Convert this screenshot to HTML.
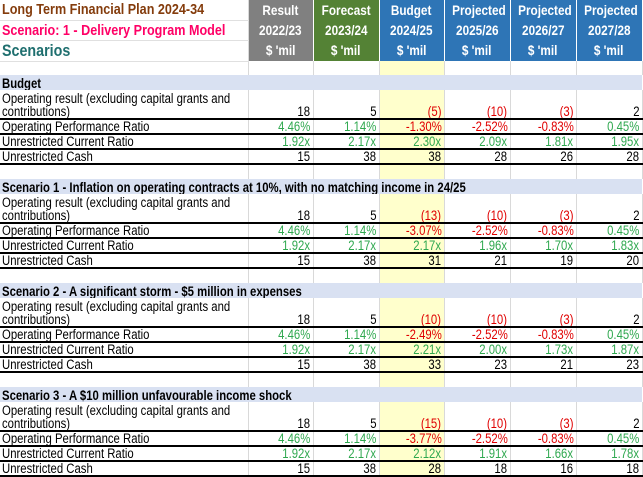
<!DOCTYPE html>
<html><head><meta charset="utf-8"><style>
body{margin:0;width:643px;height:476px;overflow:hidden;background:#fff;font-family:"Liberation Sans",Arial,sans-serif;}
table{border-collapse:collapse;table-layout:fixed;position:absolute;left:0;top:0;width:642px;}
td{padding:0 2px;font-size:13.5px;color:#000;white-space:nowrap;overflow:hidden;border-right:1px solid #d9d9d9;vertical-align:bottom;line-height:13px;box-sizing:border-box;}
td.num{text-align:right;}
.sx{display:inline-block;transform:scaleX(.84);transform-origin:left bottom;}
td.num .sx{transform-origin:right bottom;}
.hd td{color:#fff;font-weight:bold;text-align:center;vertical-align:middle;border-right:1px solid #fff;font-size:14px;}
.hd td.lab{background:#fff;color:#000;text-align:left;font-size:15px;border-bottom:1px solid #e0e0e0;border-right:1px solid #d9d9d9;}
.g{background:#808080!important}.f{background:#548235!important}.b{background:#2e75b6!important}
.y{background:#ffffcc;}
.band td{background:#d9e1f2;font-weight:bold;border-right:none;}
.ln td{border-bottom:2px solid #000;}
.pos{color:#2fa84f}.neg{color:#e00000}
</style></head><body>
<table id="t">
<colgroup><col style="width:248px"><col style="width:65px"><col style="width:66px"><col style="width:65px"><col style="width:66px"><col style="width:66px"><col style="width:66px"></colgroup>
<tbody id="tb"></tbody></table>
<script>
const years=["2022/23","2023/24","2024/25","2025/26","2026/27","2027/28"];
const colHeads=["Result","Forecast","Budget","Projected","Projected","Projected"];
const sections=["Budget","Scenario 1 - Inflation on operating contracts at 10%, with no matching income in 24/25","Scenario 2 - A significant storm - $5 million in expenses","Scenario 3 - A $10 million unfavourable income shock"];
const opResult=[[18,5,-5,-10,-3,2],[18,5,-13,-10,-3,2],[18,5,-10,-10,-3,2],[18,5,-15,-10,-3,2]];
const opRatio=[[4.46,1.14,-1.30,-2.52,-0.83,0.45],[4.46,1.14,-3.07,-2.52,-0.83,0.45],[4.46,1.14,-2.49,-2.52,-0.83,0.45],[4.46,1.14,-3.77,-2.52,-0.83,0.45]];
const curRatio=[[1.92,2.17,2.30,2.09,1.81,1.95],[1.92,2.17,2.17,1.96,1.70,1.83],[1.92,2.17,2.21,2.00,1.73,1.87],[1.92,2.17,2.12,1.91,1.66,1.78]];
const cash=[[15,38,38,28,26,28],[15,38,31,21,19,20],[15,38,33,23,21,23],[15,38,28,18,16,18]];
const tb=document.getElementById('tb');
const hcls=['g','f','b','b','b','b'];
function row(h,cls){const tr=document.createElement('tr');tr.style.height=h+'px';if(cls)tr.className=cls;tb.appendChild(tr);return tr;}
function cell(tr,html,cls,name){const td=document.createElement('td');td.innerHTML=html;if(cls)td.className=cls;


tr.appendChild(td);return td;}
const labs=[['Long Term Financial Plan 2024-34','color:#843c0c;font-size:15px'],['Scenario: 1 - Delivery Program Model','color:#ff0066;font-size:15px'],['Scenarios','color:#1f6f6f;font-size:17px']];
for(let r=0;r<3;r++){const tr=row(r==2?21:20,'hd');
cell(tr,'<span class="sx">'+'<span style="'+labs[r][1]+'">'+labs[r][0]+'</span></span>','lab','header-title-'+r);
for(let c=0;c<6;c++){const t=r==0?colHeads[c]:r==1?years[c]:"$ 'mil";cell(tr,'<span class="sx" style="transform-origin:center">'+t+'</span>',hcls[c],'column-header-'+c+'-'+r);}}
function blank(h){const tr=row(h);cell(tr,'','','blank-cell');for(let c=0;c<6;c++)cell(tr,'',c==2?'y':'','blank-cell');}
blank(14);
function fmtOp(v){return v<0?'<span class="neg">('+(-v)+')</span>':''+v;}
function fmtPct(v){return '<span class="'+(v<0?'neg':'pos')+'">'+v.toFixed(2)+'%</span>';}
function fmtX(v){return '<span class="pos">'+v.toFixed(2)+'x</span>';}
sections.forEach((s,i)=>{
 const b=row(15,'band');const td=cell(b,'<span class="sx">'+s+'</span>','','section-header');td.colSpan=7;
 const lines=[['Operating result (excluding capital grants and<br>contributions)',opResult[i],fmtOp,29,'operating-result-row'],
 ['Operating Performance Ratio',opRatio[i],fmtPct,15,'operating-performance-ratio-row'],
 ['Unrestricted Current Ratio',curRatio[i],fmtX,15,'unrestricted-current-ratio-row'],
 ['Unrestricted Cash',cash[i],v=>''+v,15,'unrestricted-cash-row']];
 lines.forEach(l=>{const tr=row(l[3],'ln');
 
 
 cell(tr,'<span class="sx">'+l[0]+'</span>','','row-label');
 l[1].forEach((v,c)=>cell(tr,'<span class="sx">'+l[2](v)+'</span>','num'+(c==2?' y':''),'value-cell'));});
 if(i<3)blank(15);
});
</script>
</body></html>
